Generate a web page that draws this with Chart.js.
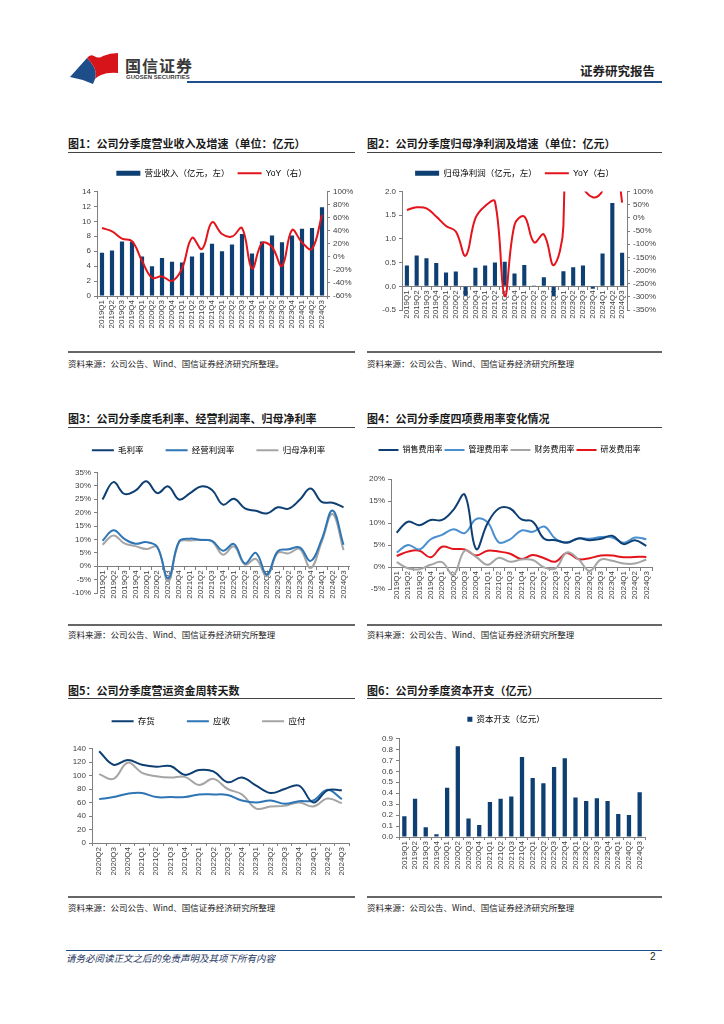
<!DOCTYPE html>
<html>
<head>
<meta charset="utf-8">
<script src="https://cdn.jsdelivr.net/npm/chart.js@4.4.1/dist/chart.umd.min.js"></script>
<style>
  body { margin: 0; width: 724px; height: 1024px; background: #fff; position: relative; overflow: hidden; font-family: "Noto Sans CJK SC", sans-serif; }
  .abs { position: absolute; }
  .title { font-size: 11px; font-weight: bold; color: #1a1a1a; white-space: nowrap; line-height: 14px; }
  .src { font-size: 8.5px; color: #222; white-space: nowrap; line-height: 12px; }
  .rule { height: 1px; background: #444; }
  .rule2 { height: 2px; background: #666; }
  canvas { position: absolute; }
</style>
</head>
<body>

<!-- header -->
<svg class="abs" style="left:68px;top:50px" width="56" height="36" viewBox="0 0 56 36">
  <path d="M2 27 L19 8 Q23 12 26 17 Q29 23 27 29 L25 34 Q14 29 2 27 Z" fill="#1D4E89"/>
  <path d="M19 8 Q22 4 26 6 Q31 9 35 6 Q42 3 50 3 L50 23 Q40 22 33 25 Q30 26 27 29 Q29 23 26 17 Q23 12 19 8 Z" fill="#D7141A"/>
</svg>
<div class="abs" style="left:125px;top:53px;font-size:16px;font-weight:bold;color:#3a3a3a;letter-spacing:1px">国信证券</div>
<div class="abs" style="left:126px;top:74px;font-size:6px;color:#3a3a3a;font-family:'Liberation Sans',sans-serif;font-weight:bold">GUOSEN SECURITIES</div>
<div class="abs" style="left:580px;top:61px;font-size:12.5px;font-weight:bold;color:#222">证券研究报告</div>
<div class="abs" style="left:187px;top:81px;width:475px;height:2px;background:#1F4E8C"></div>

<!-- row 1 -->
<div class="abs title" style="left:68px;top:136px">图1：公司分季度营业收入及增速（单位：亿元）</div>
<div class="abs rule" style="left:68px;top:152px;width:287px"></div>
<canvas id="c1" width="287" height="192" style="left:68px;top:156px"></canvas>
<div class="abs rule2" style="left:68px;top:351px;width:287px"></div>
<div class="abs src" style="left:68px;top:357px">资料来源：公司公告、Wind、国信证券经济研究所整理。</div>

<div class="abs title" style="left:367px;top:136px">图2：公司分季度归母净利润及增速（单位：亿元）</div>
<div class="abs rule" style="left:367px;top:152px;width:295px"></div>
<canvas id="c2" width="295" height="192" style="left:367px;top:156px"></canvas>
<div class="abs rule2" style="left:367px;top:351px;width:295px"></div>
<div class="abs src" style="left:367px;top:357px">资料来源：公司公告、Wind、国信证券经济研究所整理</div>

<!-- row 2 -->
<div class="abs title" style="left:68px;top:411px">图3：公司分季度毛利率、经营利润率、归母净利率</div>
<div class="abs rule" style="left:68px;top:427px;width:287px"></div>
<canvas id="c3" width="287" height="192" style="left:68px;top:430px"></canvas>
<div class="abs rule2" style="left:68px;top:624px;width:287px"></div>
<div class="abs src" style="left:68px;top:628px">资料来源：公司公告、Wind、国信证券经济研究所整理</div>

<div class="abs title" style="left:367px;top:411px">图4：公司分季度四项费用率变化情况</div>
<div class="abs rule" style="left:367px;top:427px;width:295px"></div>
<canvas id="c4" width="295" height="192" style="left:367px;top:430px"></canvas>
<div class="abs rule2" style="left:367px;top:624px;width:295px"></div>
<div class="abs src" style="left:367px;top:628px">资料来源：公司公告、Wind、国信证券经济研究所整理</div>

<!-- row 3 -->
<div class="abs title" style="left:68px;top:683px">图5：公司分季度营运资金周转天数</div>
<div class="abs rule" style="left:68px;top:698px;width:287px"></div>
<canvas id="c5" width="287" height="192" style="left:68px;top:702px"></canvas>
<div class="abs rule2" style="left:68px;top:896px;width:287px"></div>
<div class="abs src" style="left:68px;top:901px">资料来源：公司公告、Wind、国信证券经济研究所整理</div>

<div class="abs title" style="left:367px;top:683px">图6：公司分季度资本开支（亿元）</div>
<div class="abs rule" style="left:367px;top:698px;width:295px"></div>
<canvas id="c6" width="295" height="192" style="left:367px;top:702px"></canvas>
<div class="abs rule2" style="left:367px;top:896px;width:295px"></div>
<div class="abs src" style="left:367px;top:901px">资料来源：公司公告、Wind、国信证券经济研究所整理</div>

<!-- footer -->
<div class="abs" style="left:66px;top:950px;width:596px;height:1px;background:#1F4E8C"></div>
<div class="abs" style="left:66px;top:951px;font-size:9.5px;font-style:italic;color:#1F3864">请务必阅读正文之后的免责声明及其项下所有内容</div>
<div class="abs" style="left:650px;top:951px;font-size:10px;color:#222;font-family:'Liberation Sans',sans-serif">2</div>

<script>
// 分季度数据
const quarters = ["2019Q1","2019Q2","2019Q3","2019Q4","2020Q1","2020Q2","2020Q3","2020Q4","2021Q1","2021Q2","2021Q3","2021Q4","2022Q1","2022Q2","2022Q3","2022Q4","2023Q1","2023Q2","2023Q3","2023Q4","2024Q1","2024Q2","2024Q3"]
const quartersWc = ["2020Q2","2020Q3","2020Q4","2021Q1","2021Q2","2021Q3","2021Q4","2022Q1","2022Q2","2022Q3","2022Q4","2023Q1","2023Q2","2023Q3","2023Q4","2024Q1","2024Q2","2024Q3"]

// 图1 营业收入（亿元）及 YoY（%）
const revenue = [5.8, 6.1, 7.3, 7.3, 5.3, 4.0, 5.1, 4.6, 4.5, 5.3, 5.8, 7.0, 6.0, 6.9, 8.3, 5.7, 7.3, 8.1, 7.2, 8.1, 9.0, 9.1, 11.9]
const revenueYoY = [44, 39, 28, 24, -6, -32, -30, -37, -18, 29, 12, 53, 35, 31, 44, -18, 21, 15, -14, 41, 22, 12, 64]
const revenueTicks = [0, 14, 2]
const revenueYoYTicks = [-60, 100, 20]

// 图2 归母净利润（亿元）及 YoY（%）
const netProfit = [0.44, 0.65, 0.59, 0.49, 0.29, 0.31, -0.20, 0.39, 0.44, 0.50, 0.52, 0.27, 0.45, 0.015, 0.19, -0.21, 0.32, 0.40, 0.44, -0.05, 0.69, 1.76, 0.71]
const netProfitYoY = [30, 40, 36, 5, -31, -52, -144, -2, 45, 62, -297, -27, 5, -93, -63, -180, -30, 2500, 130, 78, 105, 340, 58]
const netProfitTicks = [-0.5, 2.0, 0.5]
const netProfitYoYTicks = [-350, 100, 50]

// 图3 利润率（%）
const grossMargin = [24.9, 31.4, 27.0, 28.2, 31.7, 27.3, 29.8, 24.9, 27.3, 29.8, 28.5, 23.0, 25.2, 21.6, 20.7, 19.7, 22.0, 21.5, 24.8, 29.0, 24.0, 23.7, 22.0]
const opMargin = [9.5, 13.4, 10.2, 8.4, 9.0, 7.2, -4.5, 9.3, 10.3, 9.8, 9.5, 5.8, 8.3, 1.0, 5.0, -3.1, 5.6, 6.3, 7.0, 2.0, 9.9, 20.8, 8.0]
const netMargin = [8.0, 11.5, 8.5, 7.5, 6.4, 7.2, -5.6, 9.0, 9.6, 9.9, 9.3, 4.3, 7.4, 0.6, 2.7, -3.8, 5.0, 4.8, 6.5, -0.7, 9.0, 19.5, 6.0]
const marginTicks = [-10, 35, 5]

// 图4 费用率（%）
const salesExp = [7.8, 10.3, 9.5, 10.7, 10.7, 13.0, 16.4, 4.1, 9.9, 13.3, 13.3, 10.8, 10.3, 6.4, 6.1, 5.5, 6.5, 6.1, 6.4, 7.1, 5.2, 6.1, 4.8]
const mgmtExp = [3.3, 5.0, 4.0, 6.3, 7.3, 8.6, 7.7, 10.9, 10.2, 5.6, 6.3, 8.3, 8.0, 9.2, 6.4, 5.6, 6.5, 6.4, 6.8, 6.7, 5.5, 6.7, 6.3]
const finExp = [1.1, -0.3, -0.5, 0.5, 1.1, -1.8, 3.7, 2.3, 0.5, 2.1, 1.2, 1.7, 1.6, -0.1, -0.3, 3.3, 1.8, -0.9, 1.7, 1.4, 0.8, 0.8, 1.7]
const rdExp = [2.5, 3.5, 3.7, 2.2, 4.6, 4.1, 4.0, 2.6, 3.7, 3.5, 3.0, 1.8, 2.7, 2.0, 1.2, 3.2, 1.8, 2.0, 2.6, 2.6, 2.2, 2.3, 2.3]
const expTicks = [-5, 20, 5]

// 图5 周转天数
const invDays = [136, 116, 123, 116, 113, 114, 101, 108, 106, 90, 97, 85, 74, 80, 85, 60, 78, 78]
const arDays = [65, 68, 73, 74, 68, 68, 68, 72, 72, 71, 63, 60, 63, 58, 62, 63, 79, 65]
const apDays = [102, 95, 119, 104, 99, 97, 98, 86, 95, 80, 72, 51, 54, 55, 60, 54, 66, 59]
const daysTicks = [0, 140, 20]

// 图6 资本开支（亿元）
const capex = [0.19, 0.35, 0.09, 0.025, 0.45, 0.83, 0.17, 0.11, 0.32, 0.35, 0.37, 0.73, 0.54, 0.49, 0.64, 0.72, 0.36, 0.33, 0.355, 0.33, 0.21, 0.20, 0.41]
const capexTicks = [0, 0.9, 0.1]

const navy = "#0E3F72"
const midBlue = "#2E75B6"
const lightBlue = "#4A90D0"
const gray = "#A5A5A5"
const red = "#E3141B"
const axisColor = "#7f7f7f"

Chart.defaults.font.family = '"Liberation Sans", "Noto Sans CJK SC", sans-serif'
Chart.defaults.font.size = 8
Chart.defaults.color = "#404040"
Chart.defaults.animation = false

function legendOpts(padding, boxW, boxH, fontSize) {
  return {
    position: "top",
    align: "center",
    labels: {
      usePointStyle: true,
      pointStyleWidth: boxW,
      boxHeight: boxH,
      padding: padding,
      font: { size: fontSize || 8.5 },
      color: "#333",
      generateLabels: (chart) =>
        chart.data.datasets.map((ds, i) => ({
          text: ds.label,
          fillStyle: ds.type === "line" ? ds.borderColor : ds.backgroundColor,
          strokeStyle: ds.type === "line" ? ds.borderColor : ds.backgroundColor,
          lineWidth: ds.type === "line" ? 2 : 0,
          pointStyle: ds.type === "line" ? "line" : "rect",
          datasetIndex: i,
          hidden: false,
        })),
    },
  }
}

function xAxis(position, height) {
  const axis = {
    type: "category",
    position: position,
    offset: true,
    grid: { display: true, drawOnChartArea: false, offset: true, tickLength: 3, color: axisColor },
    border: { display: true, color: axisColor },
    ticks: { minRotation: 90, maxRotation: 90, autoSkip: false, padding: 1, font: { size: 8 } },
  }
  if (height) axis.afterFit = (s) => { s.height = height }
  return axis
}

// 图例与绘图区之间的空白
function spacer(h) {
  return {
    type: "category", position: "top", display: true,
    grid: { display: false }, border: { display: false }, ticks: { display: false },
    afterFit: (s) => { s.height = h },
  }
}

function yAxis(range, fmt, pos, width) {
  return {
    position: pos,
    min: range[0],
    max: range[1],
    ticks: { stepSize: range[2], callback: fmt, autoSkip: false, padding: 3, font: { size: 8 } },
    grid: { display: true, drawOnChartArea: false, tickLength: 3, color: axisColor },
    border: { display: true, color: axisColor },
    afterFit: (s) => { s.width = width },
  }
}

const pct = (v) => Math.round(v) + "%"

function lineSet(label, data, color, axisId) {
  return {
    type: "line", label, data, borderColor: color, backgroundColor: color,
    borderWidth: 2, pointRadius: 0, tension: 0.4, yAxisID: axisId || "y", order: 0,
  }
}

function barSet(label, data, color, pct) {
  return {
    type: "bar", label, data, backgroundColor: color, borderWidth: 0,
    barPercentage: pct, categoryPercentage: 1, yAxisID: "y", order: 1,
  }
}

// 图1
new Chart(document.getElementById("c1"), {
  type: "bar",
  data: {
    labels: quarters,
    datasets: [
      barSet("营业收入（亿元，左）", revenue, navy, 0.42),
      lineSet("YoY（右）", revenueYoY, red, "y1"),
    ],
  },
  options: {
    responsive: false,
    layout: { padding: { top: 5, bottom: 12, left: 0, right: 0 } },
    plugins: { legend: legendOpts(8, 24, 5), tooltip: { enabled: false } },
    scales: {
      x: xAxis("bottom", 40),
      gap: spacer(4),
      y: yAxis(revenueTicks, (v) => v, "left", 29),
      y1: yAxis(revenueYoYTicks, pct, "right", 28),
    },
  },
})

// 图2
new Chart(document.getElementById("c2"), {
  type: "bar",
  data: {
    labels: quarters,
    datasets: [
      barSet("归母净利润（亿元，左）", netProfit, navy, 0.42),
      lineSet("YoY（右）", netProfitYoY, red, "y1"),
    ],
  },
  options: {
    responsive: false,
    layout: { padding: { top: 5, bottom: 38, left: 0, right: 0 } },
    plugins: { legend: legendOpts(8, 24, 5), tooltip: { enabled: false } },
    scales: {
      x: xAxis({ y: 0 }),
      gap: spacer(4),
      y: yAxis(netProfitTicks, (v) => v.toFixed(1), "left", 35),
      y1: yAxis(netProfitYoYTicks, pct, "right", 35),
    },
  },
})

// 图3
new Chart(document.getElementById("c3"), {
  type: "line",
  data: {
    labels: quarters,
    datasets: [
      lineSet("毛利率", grossMargin, navy),
      lineSet("经营利润率", opMargin, midBlue),
      lineSet("归母净利率", netMargin, gray),
    ],
  },
  options: {
    responsive: false,
    layout: { padding: { top: -6, bottom: 29, left: 0, right: 6 } },
    plugins: { legend: legendOpts(22, 22, 5), tooltip: { enabled: false } },
    scales: {
      x: xAxis({ y: 0 }),
      gap: spacer(8),
      y: yAxis(marginTicks, pct, "left", 29),
    },
  },
})

// 图4
new Chart(document.getElementById("c4"), {
  type: "line",
  data: {
    labels: quarters,
    datasets: [
      lineSet("销售费用率", salesExp, navy),
      lineSet("管理费用率", mgmtExp, lightBlue),
      lineSet("财务费用率", finExp, gray),
      lineSet("研发费用率", rdExp, red),
    ],
  },
  options: {
    responsive: false,
    layout: { padding: { top: 14, bottom: 33, left: 0, right: 10 } },
    plugins: { legend: legendOpts(2, 20, 5, 8), tooltip: { enabled: false } },
    scales: {
      x: xAxis({ y: 0 }),
      gap: spacer(15),
      y: yAxis(expTicks, pct, "left", 24),
    },
  },
})

// 图5
new Chart(document.getElementById("c5"), {
  type: "line",
  data: {
    labels: quartersWc,
    datasets: [
      lineSet("存货", invDays, navy),
      lineSet("应收", arDays, midBlue),
      lineSet("应付", apDays, gray),
    ],
  },
  options: {
    responsive: false,
    layout: { padding: { top: -17, bottom: 16, left: 0, right: 6 } },
    plugins: { legend: legendOpts(32, 22, 5), tooltip: { enabled: false } },
    scales: {
      x: xAxis("bottom", 35),
      gap: spacer(13),
      y: yAxis(daysTicks, (v) => v, "left", 24),
    },
  },
})

// 图6
new Chart(document.getElementById("c6"), {
  type: "bar",
  data: {
    labels: quarters,
    datasets: [barSet("资本开支（亿元）", capex, navy, 0.4)],
  },
  options: {
    responsive: false,
    layout: { padding: { top: 5, bottom: 22, left: 0, right: 17 } },
    plugins: { legend: legendOpts(8, 5, 5), tooltip: { enabled: false } },
    scales: {
      x: xAxis("bottom", 35),
      gap: spacer(5),
      y: yAxis(capexTicks, (v) => v.toFixed(1), "left", 32),
    },
  },
})
</script>
</body>
</html>
